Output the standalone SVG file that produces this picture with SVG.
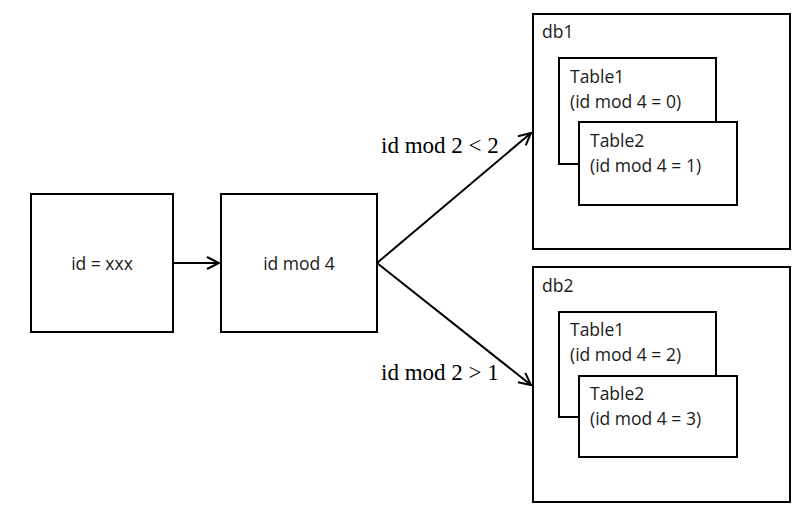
<svg xmlns="http://www.w3.org/2000/svg" width="800" height="516" viewBox="0 0 800 516">
<defs>
<style>
.box{fill:#fff;stroke:#000;stroke-width:2}
.t{font-family:"Open Sans","Liberation Sans",sans-serif;font-size:17.5px;fill:#1a1a1a}
.c{text-anchor:middle}
.lbl{font-family:"Liberation Serif","Times New Roman",serif;font-size:23px;fill:#000}
.edge{fill:none;stroke:#000;stroke-width:2}
</style>
<marker id="arr" viewBox="0 0 14 14" refX="13" refY="7" markerWidth="14" markerHeight="14" markerUnits="userSpaceOnUse" orient="auto">
<path d="M1,1 L13,7 L1,13" fill="none" stroke="#000" stroke-width="2"/>
</marker>
</defs>
<rect width="800" height="516" fill="#fff"/>
<g id="input">
<rect class="box" x="31" y="194" width="142" height="138"/>
<text class="t c" x="102" y="270">id = xxx</text>
</g>
<g id="mod">
<rect class="box" x="221" y="194" width="156" height="138"/>
<text class="t c" x="299" y="270">id mod 4</text>
</g>
<g id="db1">
<rect class="box" x="533" y="14" width="257" height="235"/>
<text class="t" x="542" y="38">db1</text>
<g id="db1-table1">
<rect class="box" x="559" y="58" width="157" height="106"/>
<text class="t" x="570" y="83">Table1</text>
<text class="t" x="570" y="108">(id mod 4 = 0)</text>
</g>
<g id="db1-table2">
<rect class="box" x="579" y="122" width="158" height="83"/>
<text class="t" x="590" y="147">Table2</text>
<text class="t" x="590" y="172">(id mod 4 = 1)</text>
</g>
</g>
<g id="db2">
<rect class="box" x="533" y="267" width="257" height="235"/>
<text class="t" x="542" y="292">db2</text>
<g id="db2-table1">
<rect class="box" x="559" y="312" width="157" height="105"/>
<text class="t" x="570" y="336">Table1</text>
<text class="t" x="570" y="361">(id mod 4 = 2)</text>
</g>
<g id="db2-table2">
<rect class="box" x="579" y="376" width="158" height="81"/>
<text class="t" x="590" y="400">Table2</text>
<text class="t" x="590" y="425">(id mod 4 = 3)</text>
</g>
</g>
<g id="connectors">
<line class="edge" x1="173" y1="263" x2="219" y2="263" marker-end="url(#arr)"/>
<line class="edge" x1="377" y1="263" x2="531" y2="133" marker-end="url(#arr)"/>
<line class="edge" x1="377" y1="263" x2="531" y2="385" marker-end="url(#arr)"/>
<text class="lbl" x="381" y="153">id mod 2 &lt; 2</text>
<text class="lbl" x="381" y="380">id mod 2 &gt; 1</text>
</g>
</svg>
